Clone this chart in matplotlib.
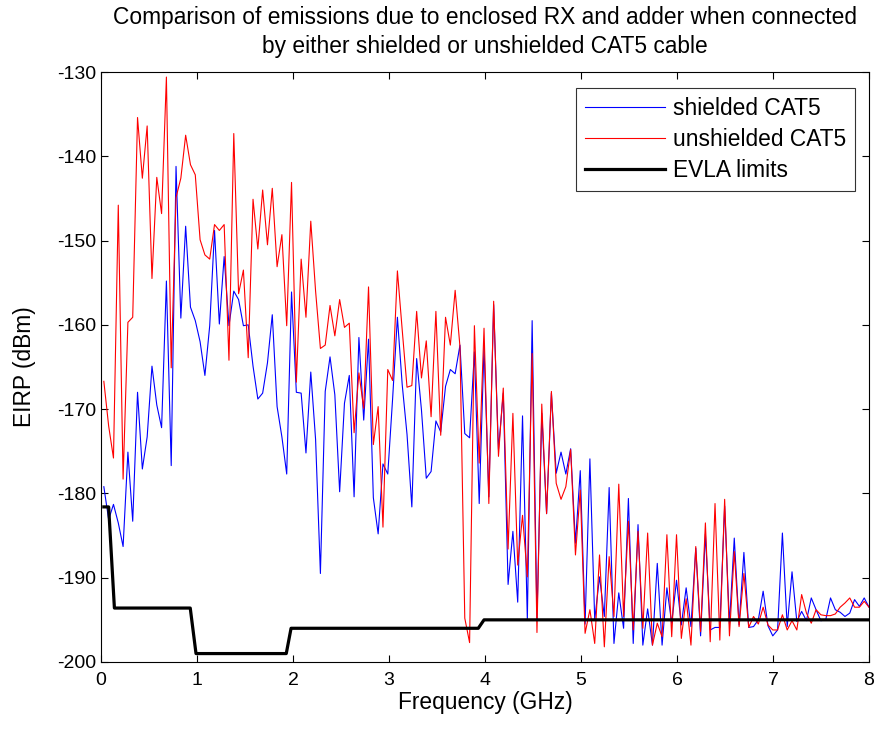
import numpy as np
import matplotlib
matplotlib.use("Agg")
import matplotlib.pyplot as plt

# frequency sweep (GHz), 160 samples
freq = np.linspace(0.03, 8.0, 160)

# EIRP (dBm), shielded cable
shielded = [
    -179.2, -183.1, -181.3, -183.5, -186.3, -175.1, -183.3, -168.0, -177.1, -173.3,
    -164.9, -169.5, -172.2, -154.8, -176.7, -141.2, -159.2, -148.3, -157.9, -159.5,
    -162.0, -166.0, -160.1, -148.8, -159.9, -151.9, -160.1, -156.0, -157.0, -160.1,
    -160.0, -164.9, -168.8, -168.1, -164.5, -158.8, -169.7, -173.3, -177.7, -156.1,
    -168.0, -168.1, -175.2, -165.6, -173.6, -189.5, -167.9, -163.8, -168.3, -179.8,
    -169.3, -166.0, -180.4, -161.5, -171.3, -161.7, -180.5, -184.8, -176.5, -177.7,
    -168.8, -159.1, -167.1, -173.0, -181.6, -164.0, -170.1, -178.2, -177.4, -171.4,
    -172.7, -167.3, -165.3, -165.8, -162.4, -172.9, -173.4, -163.2, -181.2, -162.6,
    -180.4, -157.6, -174.8, -168.1, -190.8, -184.5, -192.9, -170.8, -195.0, -159.5,
    -195.0, -170.5, -182.4, -168.1, -177.6, -175.1, -177.7, -174.7, -185.9, -177.3,
    -195.5, -175.9, -195.0, -189.9, -194.6, -179.3, -197.8, -191.8, -196.0, -180.6,
    -197.8, -183.7, -198.0, -193.7, -198.0, -188.3, -198.0, -191.2, -195.4, -190.3,
    -195.6, -191.2, -195.8, -186.5, -196.9, -184.8, -196.2, -195.9, -195.9, -181.5,
    -195.5, -185.3, -195.6, -187.0, -195.9, -195.8, -195.0, -191.6, -195.7, -196.9,
    -196.2, -184.7, -195.8, -189.3, -195.2, -194.0, -195.1, -192.4, -193.8, -195.1,
    -195.0, -192.4, -193.8, -194.1, -194.6, -194.2, -192.6, -193.4, -192.4, -193.5,
]

# EIRP (dBm), unshielded cable
unshielded = [
    -166.7, -172.0, -175.8, -145.8, -178.3, -159.7, -159.1, -135.4, -142.6, -136.4,
    -154.5, -142.5, -146.8, -130.6, -165.1, -144.9, -142.6, -137.5, -141.0, -142.2,
    -149.9, -151.7, -152.2, -148.1, -148.8, -148.1, -164.2, -137.3, -156.3, -153.5,
    -163.9, -145.1, -151.0, -144.0, -150.5, -143.8, -153.1, -149.3, -160.1, -143.1,
    -166.8, -152.2, -159.1, -147.7, -156.0, -162.8, -162.4, -157.7, -161.3, -157.0,
    -160.3, -159.8, -172.8, -165.7, -169.9, -155.5, -174.2, -169.7, -184.0, -165.3,
    -166.6, -153.6, -160.6, -167.4, -167.2, -158.4, -166.3, -161.9, -170.9, -158.4,
    -173.1, -159.1, -162.4, -155.9, -162.6, -194.8, -197.7, -160.1, -176.4, -160.4,
    -181.2, -157.2, -175.6, -167.5, -186.6, -170.5, -188.5, -182.6, -189.9, -163.4,
    -196.5, -169.4, -182.4, -167.9, -178.8, -180.7, -179.2, -174.8, -187.3, -179.6,
    -196.6, -193.8, -197.8, -187.3, -198.2, -187.5, -194.6, -178.9, -194.6, -183.3,
    -196.2, -184.5, -196.0, -184.7, -198.0, -195.4, -197.0, -184.9, -197.0, -184.9,
    -197.2, -192.5, -198.0, -186.3, -196.4, -183.5, -197.6, -181.2, -197.4, -180.7,
    -196.9, -186.9, -195.8, -189.5, -195.9, -194.6, -195.5, -193.5, -195.6, -196.2,
    -196.2, -194.4, -196.2, -195.1, -196.2, -192.0, -194.2, -195.4, -193.8, -194.4,
    -194.5, -194.5, -194.3, -193.5, -193.0, -192.4, -193.5, -193.5, -192.8, -193.5,
]

# EVLA limit steps
evla_freq = [0.03, 0.08, 0.14, 0.93, 0.99, 1.93, 1.98, 3.93, 3.99, 8.0]
evla_level = [-181.6, -181.6, -193.6, -193.6, -199.0, -199.0, -196.0, -196.0, -195.0, -195.0]

plt.rcParams["font.family"] = ["Liberation Sans", "DejaVu Sans"]
plt.rcParams["axes.unicode_minus"] = False
fs = 16.4      # title / labels / legend
tfs = 14       # tick labels

fig = plt.figure(figsize=(8.81, 7.31), dpi=100)
ax = fig.add_axes([0.1146, 0.0944, 0.8718, 0.8071])

ax.plot(freq, shielded, color="#0000ff", lw=0.8, label="shielded CAT5")
ax.plot(freq, unshielded, color="#ff0000", lw=0.8, label="unshielded CAT5")
ax.plot(evla_freq, evla_level, color="black", lw=2.3, label="EVLA limits")

ax.set_xlim(0, 8)
ax.set_ylim(-200, -130)
ax.set_xticks(range(0, 9))
ax.set_yticks(range(-200, -129, 10))
ax.tick_params(direction="in", top=True, right=True, length=5, width=0.8,
               labelsize=tfs)
ax.tick_params(axis="x", pad=7)
ax.tick_params(axis="y", pad=3.5)
for s in ax.spines.values():
    s.set_linewidth(0.8)

ax.set_xlabel("Frequency (GHz)", fontsize=fs)
ax.xaxis.set_label_coords(0.5, -0.05)
ax.set_ylabel("EIRP (dBm)", fontsize=fs)
ax.yaxis.set_label_coords(-0.085, 0.5)
ax.set_title("Comparison of emissions due to enclosed RX and adder when connected\n"
             "by either shielded or unshielded CAT5 cable", fontsize=fs, pad=14,
             linespacing=1.3)

leg = ax.legend(loc="upper right", fontsize=fs, frameon=True, fancybox=False,
                edgecolor="black", handlelength=3.5, handletextpad=0.35,
                borderpad=0.4, labelspacing=0.35, borderaxespad=0,
                bbox_to_anchor=(0.982, 0.973))
leg.get_frame().set_linewidth(0.8)

plt.savefig("out.png", dpi=100)
